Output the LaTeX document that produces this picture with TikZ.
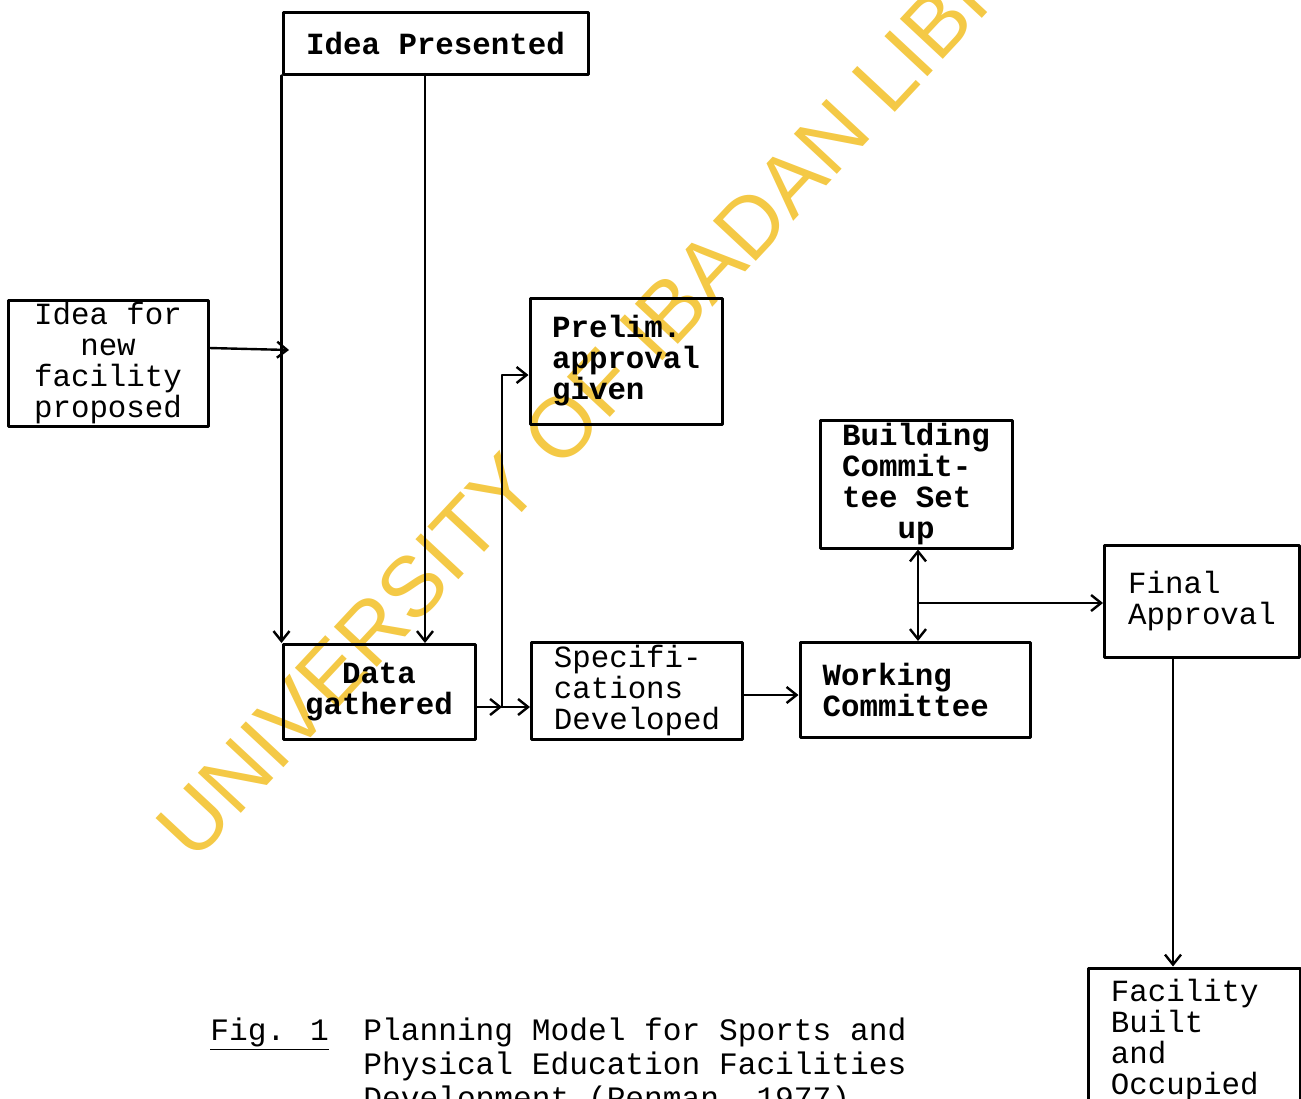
\documentclass[tikz,border=0pt]{standalone}
\usepackage{fontspec}
\setmainfont{Liberation Mono}
\setsansfont{Liberation Sans}
\usetikzlibrary{arrows.meta}
\newcommand\chartfont{\fontsize{15.4}{15.5}\selectfont}
\newcommand\captionfont{\fontsize{15.6}{17}\selectfont}
\definecolor{wmyellow}{RGB}{244,201,70}
\tikzset{
  box/.style={draw,line width=1.5pt,inner sep=0pt,font=\chartfont,align=left},
  heavy/.style={box,font=\chartfont\bfseries},
  link/.style={->,line width=1.2pt},
}
\begin{document}
\begin{tikzpicture}[x=0.5pt,y=-0.5pt,line join=round,line cap=round,>={Straight Barb[length=5pt,width=8pt]}]
            \useasboundingbox (0,0) rectangle (1301,1098);
            % watermark
            \node[rotate=47,inner sep=0pt,text=wmyellow,font=\fontsize{42.7}{42.7}\sffamily] (mark) at (645,337) {UNIVERSITY OF IBADAN LIBRARY};
            % boxes
            \node[heavy,minimum width=152.5pt,minimum height=31pt] (idea) at (435.5,43) {Idea Presented};
            \node[box,align=center,minimum width=100pt,minimum height=63pt] (proposal) at (108,363) {Idea for\\new\\facility\\proposed};
            \node[heavy,align=center,minimum width=96pt,minimum height=47.5pt] (data) at (379,692) {Data\\gathered};
            \node[heavy,minimum width=96pt,minimum height=63pt] (prelim) at (626,361) {Prelim.\\approval\\given};
            \node[box,minimum width=105.5pt,minimum height=48.5pt] (specs) at (637,691) {Specifi-\\cations\\Developed};
            \node[heavy,minimum width=115pt,minimum height=47.5pt] (working) at (915,690) {Working\\Committee\hphantom{0}};
            \node[heavy,minimum width=96pt,minimum height=64pt] (building) at (916,484) {Building\\Commit-\\tee Set\\\hphantom{000}up};
            \node[box,minimum width=97.5pt,minimum height=56pt] (final) at (1202,601) {Final\\Approval};
            \node[box,minimum width=106pt,minimum height=72pt] (facility) at (1194,1040) {Facility\\Built\\and\\Occupied\hphantom{0}};
            % connectors
            \coordinate (drop) at (425,74);
            \coordinate (join) at (289,350);
            \coordinate (branch) at (502,707);
            \coordinate (hub) at (918,603);
            \draw[link] (idea.south west) -- (idea.south west |- data.north);
            \draw[link] (drop) -- (drop |- data.north);
            \draw[link] ([yshift=7.5pt]proposal.east) -- (join);
            \draw[link] ([yshift=-7.5pt]data.east) -- (branch);
            \draw[link] (branch) -- (branch -| specs.west);
            \draw[link] (branch) |- ([yshift=-7pt]prelim.west);
            \draw[link] ([yshift=-2pt]specs.east) -- ([yshift=-2pt]specs.east -| working.west);
            \draw[link] (hub) -- (hub |- building.south);
            \draw[link] (hub) -- (hub |- working.north);
            \draw[link] (hub) -- (hub -| final.west);
            \draw[link] ([xshift=-14.5pt]final.south) -- ([xshift=-14.5pt]final.south |- facility.north);
            % caption
            \node[anchor=base west,inner sep=0pt,font=\captionfont] (fig) at (210,1040) {\underline{Fig. 1}};
            \node[anchor=base west,inner sep=0pt,font=\captionfont,align=left] (caption) at (363,1108) {Planning Model for Sports and\\Physical Education Facilities\\Development (Penman, 1977)};
\end{tikzpicture}
\end{document}
